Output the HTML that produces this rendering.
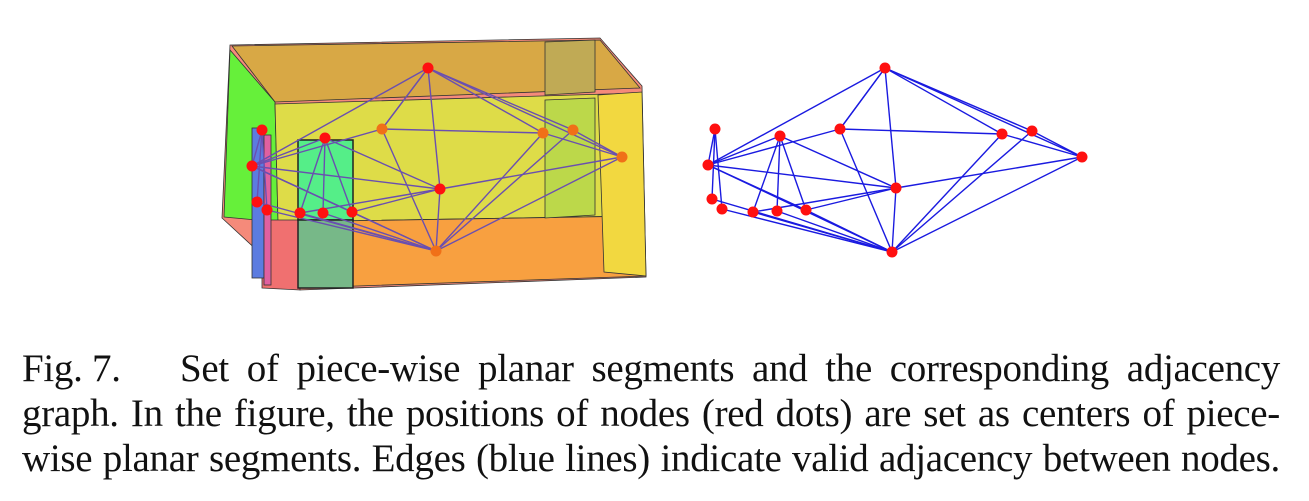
<!DOCTYPE html>
<html><head><meta charset="utf-8"><style>
html,body{margin:0;padding:0;background:#fff;width:1309px;height:501px;overflow:hidden}
#fig{position:absolute;left:0;top:0}
.cap{position:absolute;font-family:"Liberation Serif",serif;font-size:39px;letter-spacing:-0.3px;color:#111;text-align:justify;text-align-last:justify;white-space:nowrap;line-height:38px}
</style></head><body>
<svg id="fig" width="1309" height="320">
 <g id="scene" stroke="#333" stroke-width="0.8">
  <polygon points="230,45 600,38 642,86 646,277 300,290 222,218" fill="#f58a7a"/>
  <polygon points="232,46 600,40 640,88 275,102" fill="#d8a845"/>
  <polygon points="230,50 275,102 278,222 224,217" fill="#66f03a"/>
  <polygon points="275,104 640,93 640,216 278,222" fill="#dedc48"/>
  <polygon points="278,222 640,216 646,276 300,288" fill="#f8a040"/>
  <polygon points="598,95 642,92 646,276 604,272" fill="#f2d840"/>
  <polygon points="545,42 595,40 595,92 545,95" fill="#c0aa55"/>
  <polygon points="545,100 595,98 595,215 545,218" fill="#bcd84a"/>
  <polygon points="262,220 300,220 300,290 262,288" fill="#f07070"/>
  <rect x="298" y="140" width="55" height="80" fill="#55ee88" stroke="#222" stroke-width="1.5"/>
  <rect x="298" y="220" width="55" height="68" fill="#77b888" stroke="#222" stroke-width="1.5"/>
  <rect x="252" y="128" width="12" height="150" fill="#5c7ce0"/>
  <rect x="264" y="135" width="7" height="150" fill="#e060a0"/>
 </g>
 <g id="leftGraph"></g>
 <g id="rightGraph"></g>
</svg>
<div class="cap" style="top:350px;left:22px;width:130px;text-align-last:left">Fig. 7.</div>
<div class="cap" style="top:350px;left:180px;width:1100px">Set of piece-wise planar segments and the corresponding adjacency</div>
<div class="cap" style="top:395px;left:22px;width:1258px">graph. In the figure, the positions of nodes (red dots) are set as centers of piece-</div>
<div class="cap" style="top:440px;left:22px;width:1258px">wise planar segments. Edges (blue lines) indicate valid adjacency between nodes.</div>
<script>
const rightX=[885,715,780,840,1002,1032,1082,708,896,712,722,753,777,806,892];
const rightY=[68,129,136,129,134,131,157,165,188,199,209,212,211,210,252];
const leftX=[428,262,325,382,543,573,622,252,440,257,267,300,323,352,436];
const leftY=[68,130,138,129,133,130,157,166,189,202,210,213,213,212,251];
const edgeFrom=[0,0,0,0,0,0,3,3,2,2,2,2,1,1,1,7,7,7,7,8,8,8,8,4,5,6,9,10,11,12,13,5,4,7,3];
const edgeTo  =[7,3,8,4,5,6,4,14,11,12,13,8,7,9,10,3,8,14,13,11,13,14,6,14,14,14,14,14,14,14,14,6,6,2,0];
const NS="http://www.w3.org/2000/svg";
function draw(gid,xs,ys,edgeColor,nodeColor){
 const g=document.getElementById(gid);
 for(let i=0;i<edgeFrom.length;i++){
  const l=document.createElementNS(NS,'line');
  
  
  l.setAttribute('x1',xs[edgeFrom[i]]);l.setAttribute('y1',ys[edgeFrom[i]]);
  l.setAttribute('x2',xs[edgeTo[i]]);l.setAttribute('y2',ys[edgeTo[i]]);
  l.setAttribute('stroke',edgeColor);l.setAttribute('stroke-width','1.4');
  g.appendChild(l);
 }
 for(let i=0;i<xs.length;i++){
  const c=document.createElementNS(NS,'circle');
  
  
  c.setAttribute('cx',xs[i]);c.setAttribute('cy',ys[i]);c.setAttribute('r','5.5');
  c.setAttribute('fill',typeof nodeColor==='function'?nodeColor(i):nodeColor);
  g.appendChild(c);
 }
}
draw('leftGraph',leftX,leftY,'#6a4fb0',i=>[3,4,5,6,14].includes(i)?'#f07018':'#ff1010');
draw('rightGraph',rightX,rightY,'#1a1ae0','#ff1010');
</script>
</body></html>
